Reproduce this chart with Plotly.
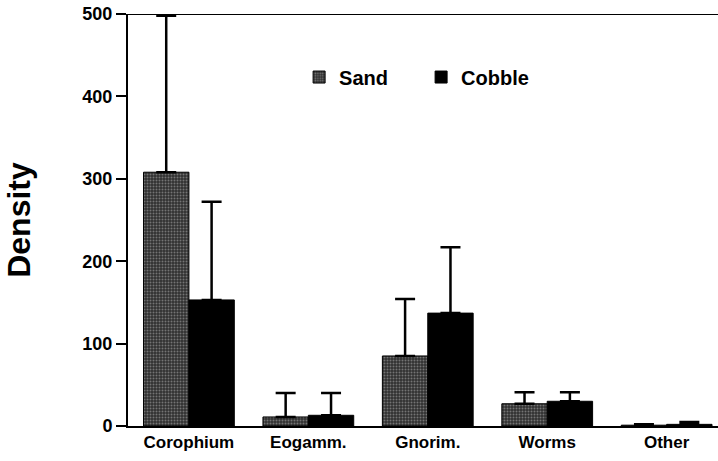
import plotly.graph_objects as go

categories = ["Corophium", "Eogamm.", "Gnorim.", "Worms", "Other"]
sand_vals = [308, 11, 85, 27, 1]
sand_err = [190, 29, 69, 14, 1]
cobble_vals = [153, 13, 137, 30, 2]
cobble_err = [119, 27, 80, 11, 3]
y_ticks = [0, 100, 200, 300, 400, 500]

FONT = "Liberation Sans"

fig = go.Figure()
fig.add_trace(go.Bar(
    name="Sand", x=categories, y=sand_vals,
    marker=dict(color="#3a3a3a",
                line=dict(color="black", width=1),
                pattern=dict(shape=".", bgcolor="#303030", fgcolor="#b8b8b8",
                             size=3, solidity=0.35)),
    error_y=dict(type="data", symmetric=False, array=sand_err,
                 arrayminus=[0] * len(sand_err), color="black",
                 thickness=2.5, width=10),
))
fig.add_trace(go.Bar(
    name="Cobble", x=categories, y=cobble_vals,
    marker=dict(color="black", line=dict(color="black", width=1)),
    error_y=dict(type="data", symmetric=False, array=cobble_err,
                 arrayminus=[0] * len(cobble_err), color="black",
                 thickness=2.5, width=10),
))

fig.update_layout(
    width=718, height=461,
    margin=dict(l=128, r=0, t=14, b=35),
    paper_bgcolor="white", plot_bgcolor="white",
    barmode="group", bargap=0.24, bargroupgap=0,
    font=dict(family=FONT, color="black"),
    showlegend=True,
    legend=dict(orientation="h", x=0.29, y=0.847, xanchor="left", yanchor="middle",
                font=dict(family=FONT, size=20, color="black", weight="bold"),
                entrywidth=77, bgcolor="rgba(0,0,0,0)"),
    xaxis=dict(range=[-0.51, 4.43], showline=True, linecolor="black", linewidth=2,
               ticks="", showgrid=False, zeroline=False,
               tickfont=dict(family=FONT, size=17, color="black", weight="bold")),
    yaxis=dict(range=[0, 500], tickvals=y_ticks, showline=True, linecolor="black",
               linewidth=2, ticks="outside", ticklen=10, tickwidth=2,
               tickcolor="black", showgrid=False, zeroline=False,
               tickfont=dict(family=FONT, size=18, color="black", weight="bold"),
               title=dict(text="Density", standoff=42,
                          font=dict(family=FONT, size=32, color="black", weight="bold"))),
    shapes=[dict(type="line", xref="x domain", x0=0, x1=1, yref="y", y0=500, y1=500,
                 line=dict(color="black", width=2))],
)

fig.write_html("out.html", config={"displayModeBar": False},
               post_script="document.body.style.margin='0';")
